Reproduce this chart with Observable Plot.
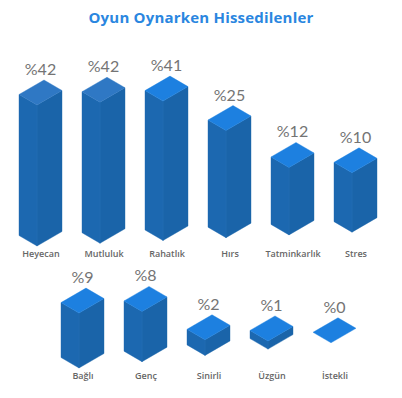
<!DOCTYPE html>
<html><head><meta charset="utf-8">
<script src="https://cdn.jsdelivr.net/npm/d3@7"></script>
<script src="https://cdn.jsdelivr.net/npm/@observablehq/plot@0.6"></script>
<style>
body{margin:0;background:#fff;width:402px;height:398px;overflow:hidden;}
#title{height:34px;line-height:34px;text-align:center;font-family:"Open Sans",Lato,sans-serif;font-weight:700;font-size:15px;color:#2a86e0;letter-spacing:0.2px}
svg{display:block}
</style></head><body>
<div id="title"></div>
<div id="row1"></div><div id="row2"></div>
<script>
const title = "Oyun Oynarken Hissedilenler";
const row1Labels = ["Heyecan", "Mutluluk", "Rahatlık", "Hırs", "Tatminkarlık", "Stres"];
const row1Values = [42, 42, 41, 25, 12, 10];
const row2Labels = ["Bağlı", "Genç", "Sinirli", "Üzgün", "İstekli"];
const row2Values = [9, 8, 2, 1, 0];

document.getElementById("title").textContent = title;

function boxes(cats, vals, tilt) {
  return (index, scales) => {
    const x = scales.x, y = scales.y;
    const bw = x.bandwidth ? x.bandwidth() : 0;
    const g = d3.create("svg:g");
    const f0 = x(cats[0]) + bw / 2 - 3.5;
    cats.forEach((c, i) => {
      const cx = x(c) + bw / 2;
      const f = cx - 3.5;
      const base = y(0) - tilt * (f - f0);
      const top = base - (y(0) - y(vals[i]));
      const poly = (pts, fill) => g.append("polygon")
        .attr("points", pts.map(p => p.join(",")).join(" "))
        .attr("fill", fill).attr("stroke", fill).attr("stroke-width", 0.4);
      if (base - top > 0.5) {
        poly([[f - 18, base - 10.5], [f, base], [f, top], [f - 18, top - 10.5]], "#1c68b0");
        poly([[f, base], [f + 25, base - 14.5], [f + 25, top - 14.5], [f, top]], "#1a64a9");
        g.append("line").attr("x1", f).attr("x2", f).attr("y1", top).attr("y2", base)
          .attr("stroke", "#2a74bb").attr("stroke-width", 0.6);
      }
      const topFill = vals[i] >= 42 ? "#2f78c4" : "#1d80e0";
      poly([[f, top], [f - 18, top - 10.5], [f + 7, top - 25], [f + 25, top - 14.5]], topFill);
      g.append("text")
        .attr("x", cx).attr("y", top - 30)
        .attr("text-anchor", "middle")
        .attr("font-family", "Lato, 'Open Sans', sans-serif")
        .attr("font-size", 16)
        .attr("fill", "#747474")
        .text("%" + vals[i]);
    });
    return g.node();
  };
}

function row(cats, vals, opts) {
  const data = cats.map((c, i) => ({c, v: vals[i]}));
  return Plot.plot({
    width: 402,
    height: opts.height,
    margin: 0,
    x: {type: "band", domain: cats, range: opts.xRange, padding: 0, axis: null},
    y: {type: "symlog", constant: 10, domain: [0, 42], range: opts.yRange, axis: null},
    marks: [
      Plot.dot(data, {x: "c", y: "v", r: 0}),
      boxes(cats, vals, opts.tilt),
      Plot.text(cats, {
        x: d => d, text: d => d, frameAnchor: "bottom", dy: opts.labelDy,
        fontSize: 9, fontFamily: "'Open Sans', sans-serif", fontWeight: 600, fill: "#666"
      })
    ]
  });
}

document.getElementById("row1").append(row(row1Labels, row1Values, {
  height: 228, xRange: [8.5, 386.5], yRange: [212, 71], tilt: 0.044, labelDy: -6
}));
document.getElementById("row2").append(row(row2Labels, row2Values, {
  height: 136, xRange: [50.5, 365.5], yRange: [106, -35], tilt: 0.10, labelDy: -20
}));
</script>
</body></html>
